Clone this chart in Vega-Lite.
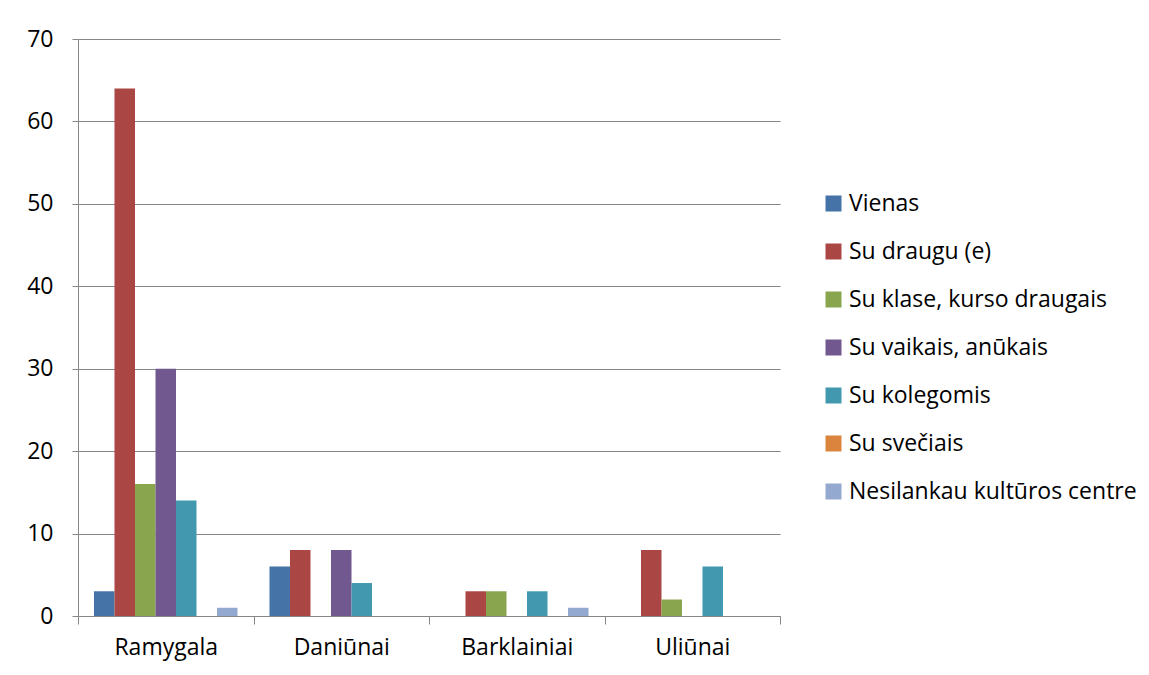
{
  "$schema": "https://vega.github.io/schema/vega-lite/v6.json",
  "width": 702,
  "height": 577,
  "autosize": "none",
  "padding": {"left": 78, "top": 39, "right": 369, "bottom": 59},
  "background": "white",
  "config": {
    "view": {"stroke": null},
    "font": "Open Sans",
    "axis": {"labelFont": "Open Sans", "labelFontSize": 23, "labelColor": "#000000", "domainColor": "#868686", "tickColor": "#868686", "gridColor": "#868686", "title": null}
  },
  "data": {
    "values": [
      {"place": "Ramygala", "group": "Vienas", "value": 3},
      {"place": "Ramygala", "group": "Su draugu (e)", "value": 64},
      {"place": "Ramygala", "group": "Su klase, kurso draugais", "value": 16},
      {"place": "Ramygala", "group": "Su vaikais, anūkais", "value": 30},
      {"place": "Ramygala", "group": "Su kolegomis", "value": 14},
      {"place": "Ramygala", "group": "Su svečiais", "value": 0},
      {"place": "Ramygala", "group": "Nesilankau kultūros centre", "value": 1},
      {"place": "Daniūnai", "group": "Vienas", "value": 6},
      {"place": "Daniūnai", "group": "Su draugu (e)", "value": 8},
      {"place": "Daniūnai", "group": "Su klase, kurso draugais", "value": 0},
      {"place": "Daniūnai", "group": "Su vaikais, anūkais", "value": 8},
      {"place": "Daniūnai", "group": "Su kolegomis", "value": 4},
      {"place": "Daniūnai", "group": "Su svečiais", "value": 0},
      {"place": "Daniūnai", "group": "Nesilankau kultūros centre", "value": 0},
      {"place": "Barklainiai", "group": "Vienas", "value": 0},
      {"place": "Barklainiai", "group": "Su draugu (e)", "value": 3},
      {"place": "Barklainiai", "group": "Su klase, kurso draugais", "value": 3},
      {"place": "Barklainiai", "group": "Su vaikais, anūkais", "value": 0},
      {"place": "Barklainiai", "group": "Su kolegomis", "value": 3},
      {"place": "Barklainiai", "group": "Su svečiais", "value": 0},
      {"place": "Barklainiai", "group": "Nesilankau kultūros centre", "value": 1},
      {"place": "Uliūnai", "group": "Vienas", "value": 0},
      {"place": "Uliūnai", "group": "Su draugu (e)", "value": 8},
      {"place": "Uliūnai", "group": "Su klase, kurso draugais", "value": 2},
      {"place": "Uliūnai", "group": "Su vaikais, anūkais", "value": 0},
      {"place": "Uliūnai", "group": "Su kolegomis", "value": 6},
      {"place": "Uliūnai", "group": "Su svečiais", "value": 0},
      {"place": "Uliūnai", "group": "Nesilankau kultūros centre", "value": 0}
    ]
  },
  "mark": {"type": "bar"},
  "encoding": {
    "x": {
      "field": "place", "type": "nominal", "sort": null,
      "scale": {"paddingInner": 0, "paddingOuter": 0},
      "axis": {"labelAngle": 0, "tickBand": "extent", "tickSize": 8, "labelPadding": 12, "domainWidth": 1, "grid": false}
    },
    "xOffset": {
      "field": "group", "type": "nominal", "sort": null,
      "scale": {"paddingInner": 0, "paddingOuter": 0.78}
    },
    "y": {
      "field": "value", "type": "quantitative",
      "scale": {"domain": [0, 70]},
      "axis": {"values": [0, 10, 20, 30, 40, 50, 60, 70], "tickSize": 6, "labelPadding": 19, "grid": true, "gridWidth": 1}
    },
    "color": {
      "field": "group", "type": "nominal",
      "scale": {
        "domain": ["Vienas", "Su draugu (e)", "Su klase, kurso draugais", "Su vaikais, anūkais", "Su kolegomis", "Su svečiais", "Nesilankau kultūros centre"],
        "range": ["#4572A7", "#AA4643", "#89A54E", "#71588F", "#4198AF", "#DB843D", "#93A9CF"]
      },
      "legend": {
        "title": null,
        "orient": "none",
        "legendX": 744,
        "legendY": 153,
        "symbolType": "square",
        "symbolSize": 256,
        "symbolStrokeWidth": 0,
        "labelFont": "Open Sans",
        "labelFontSize": 23,
        "labelColor": "#000000",
        "labelLimit": 400,
        "labelOffset": 4,
        "rowPadding": 24
      }
    }
  }
}
